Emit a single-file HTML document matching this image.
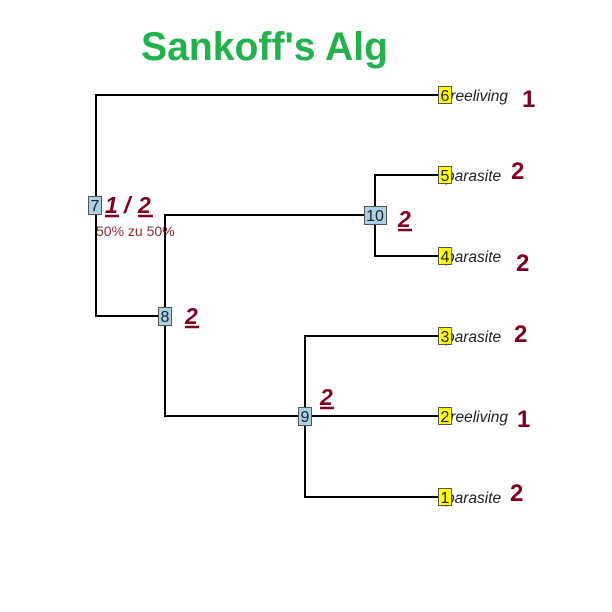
<!DOCTYPE html>
<html><head><meta charset="utf-8"><style>html,body{margin:0;padding:0;background:#fff}svg{display:block}</style></head>
<body>
<svg width="612" height="612" xmlns="http://www.w3.org/2000/svg" font-family="Liberation Sans, sans-serif">
<rect width="612" height="612" fill="#fff"/>
<text x="141" y="60" font-size="40" font-weight="bold" fill="#22b14c" textLength="247" lengthAdjust="spacingAndGlyphs">Sankoff's Alg</text>
<g stroke="#000" stroke-width="2" fill="none">
<polyline points="445,95 96,95 96,316 165,316"/>
<polyline points="375,215 165,215 165,416 305,416"/>
<polyline points="445,175 375,175 375,256 445,256"/>
<polyline points="445,336 305,336 305,497 445,497"/>
<line x1="305" y1="416" x2="445" y2="416"/>
</g>
<g font-size="15.5" font-style="italic" fill="#222">
<text x="446" y="101">freeliving</text>
<text x="446" y="181">parasite</text>
<text x="446" y="262">parasite</text>
<text x="446" y="342">parasite</text>
<text x="446" y="422">freeliving</text>
<text x="446" y="503">parasite</text>
</g>
<g fill="#ffff00" stroke="#555" stroke-width="1">
<rect x="438.5" y="86.5" width="13" height="17"/>
<rect x="438.5" y="166.5" width="13" height="17"/>
<rect x="438.5" y="247.5" width="13" height="17"/>
<rect x="438.5" y="327.5" width="13" height="17"/>
<rect x="438.5" y="407.5" width="13" height="17"/>
<rect x="438.5" y="488.5" width="13" height="17"/>
</g>
<g fill="#a8d0e6" stroke="#555" stroke-width="1">
<rect x="88.5" y="196.5" width="13" height="18"/>
<rect x="158.5" y="307.5" width="13" height="18"/>
<rect x="298.5" y="407.5" width="13" height="18"/>
<rect x="364.5" y="206.5" width="22" height="18"/>
</g>
<g font-size="16" fill="#222" text-anchor="middle">
<text x="445" y="101">6</text><text x="445" y="181">5</text><text x="445" y="262">4</text>
<text x="445" y="342">3</text><text x="445" y="422">2</text><text x="445" y="503">1</text>
<text x="95" y="211">7</text><text x="165" y="322">8</text><text x="305" y="422">9</text><text x="375" y="221">10</text>
</g>
<g font-size="24" font-weight="bold" fill="#800020">
<text x="522" y="107">1</text>
<text x="511" y="179">2</text>
<text x="516" y="271">2</text>
<text x="514" y="342">2</text>
<text x="517" y="427">1</text>
<text x="510" y="501">2</text>
</g>
<g font-size="23" font-weight="bold" font-style="italic" fill="#800020">
<text x="105" y="213">1</text>
<text x="124" y="213">/</text>
<text x="138" y="213">2</text>
<text x="185" y="324">2</text>
<text x="320" y="405">2</text>
<text x="398" y="227">2</text>
</g>
<g stroke="#800020" stroke-width="2.5">
<line x1="105" y1="216" x2="119" y2="216"/>
<line x1="138" y1="216" x2="153" y2="216"/>
<line x1="185" y1="327" x2="199" y2="327"/>
<line x1="320" y1="408" x2="334" y2="408"/>
<line x1="398" y1="230" x2="412" y2="230"/>
</g>
<text x="96" y="236" font-size="14" fill="#8b2a3a">50% zu 50%</text>
</svg>
</body></html>
